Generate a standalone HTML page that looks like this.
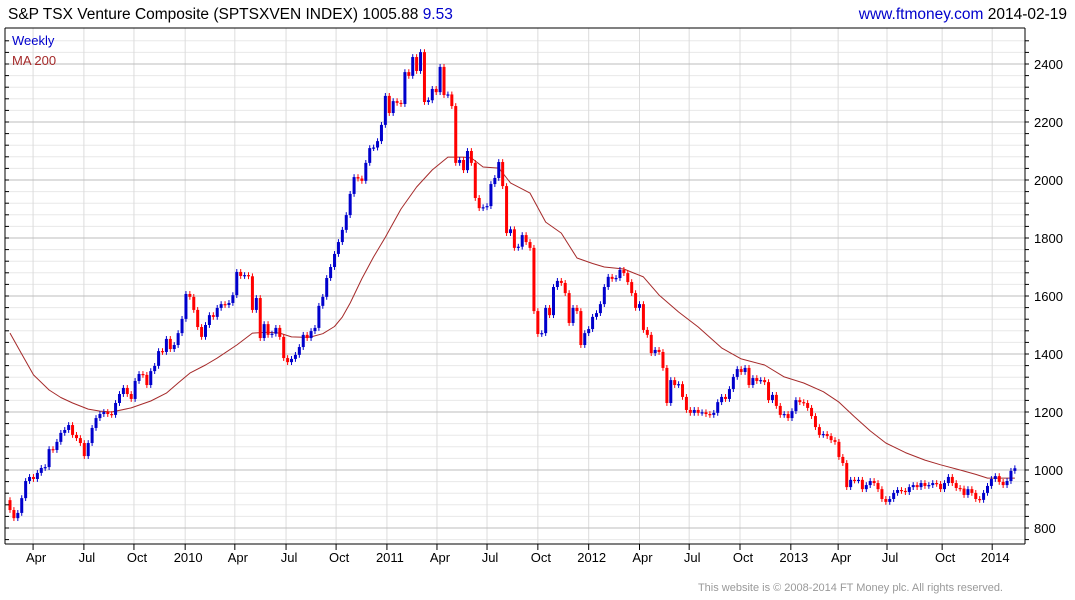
<!DOCTYPE html>
<html><head><meta charset="utf-8"><style>
body{margin:0;background:#fff;width:1075px;height:600px;overflow:hidden;font-family:"Liberation Sans",sans-serif}
svg{display:block}
</style></head><body>
<svg id="chart" width="1075" height="600" font-family="Liberation Sans, sans-serif">
<text x="8" y="19" font-size="15.5" fill="#000">S&amp;P TSX Venture Composite (SPTSXVEN INDEX) 1005.88 <tspan fill="#0000cc">9.53</tspan></text>
<text x="1067" y="19" font-size="15.5" text-anchor="end"><tspan fill="#0000cc">www.ftmoney.com</tspan> 2014-02-19</text>
<g id="grid"></g>
<g id="ma"></g>
<g id="candles"></g>
<g id="axes"></g>
<text x="12" y="45" font-size="13" fill="#0000cc">Weekly</text>
<text x="12" y="65" font-size="13" fill="#a52a2a">MA 200</text>
<text x="1003" y="591" font-size="11" fill="#999" text-anchor="end">This website is © 2008-2014 FT Money plc. All rights reserved.</text>
</svg>
<script>
const closes=[862,834,852,903,962,976,969,990,1007,1010,1072,1069,1097,1128,1138,1155,1121,1110,1093,1048,1093,1145,1179,1193,1200,1193,1190,1231,1262,1283,1262,1245,1307,1331,1328,1293,1341,1359,1410,1407,1452,1417,1431,1472,1521,1607,1597,1552,1493,1459,1500,1534,1528,1559,1572,1569,1576,1603,1683,1669,1672,1668,1552,1593,1455,1503,1466,1470,1490,1459,1386,1372,1383,1397,1424,1466,1455,1479,1490,1566,1597,1662,1700,1745,1786,1828,1879,1952,2010,2005,1997,2059,2110,2112,2134,2190,2290,2231,2272,2266,2262,2372,2359,2424,2376,2441,2269,2275,2314,2303,2390,2293,2295,2255,2059,2069,2034,2100,2059,1938,1903,1906,1910,1986,2007,2062,1979,1817,1830,1766,1770,1810,1786,1766,1548,1469,1472,1559,1534,1631,1652,1645,1610,1507,1559,1548,1431,1472,1486,1528,1541,1572,1631,1666,1659,1662,1690,1679,1648,1610,1559,1572,1483,1466,1403,1414,1407,1352,1231,1310,1293,1296,1252,1207,1197,1207,1197,1199,1193,1190,1197,1234,1252,1245,1279,1321,1348,1338,1352,1293,1317,1307,1310,1303,1241,1259,1221,1190,1193,1179,1203,1241,1234,1231,1214,1186,1148,1121,1124,1117,1103,1097,1045,1024,941,966,964,966,934,948,962,955,934,900,890,900,921,931,928,924,941,948,941,955,945,948,955,952,934,955,976,955,938,936,914,934,921,900,897,921,945,969,979,959,948,962,997,1006];
const maWeeks=[0,3,6,10,13,16,20,23,26,31,36,40,43,46,50,53,58,62,66,69,72,75,77,80,83,85,87,90,93,96,100,104,108,112,116,118,121,125,128,133,137,141,145,149,152,157,162,166,171,176,182,187,193,198,203,208,212,216,220,224,229,234,238,243,247,250,257];
const maValues=[1472,1400,1328,1276,1250,1231,1210,1203,1200,1214,1238,1265,1300,1334,1362,1386,1431,1472,1475,1472,1459,1458,1459,1470,1495,1528,1576,1660,1735,1803,1900,1976,2035,2079,2079,2076,2045,2041,1990,1955,1855,1817,1731,1712,1700,1693,1666,1603,1545,1493,1421,1383,1362,1321,1300,1270,1234,1183,1135,1093,1060,1034,1018,1000,985,972,972];
const yTicks=[800,1000,1200,1400,1600,1800,2000,2200,2400];
const xTickWeeks=[5.9,18.9,31.7,44.8,57.5,70.6,83.4,96.4,109.2,122,135,148,161,173.7,186.7,199.7,211.8,224.3,238.4,251.2];
const xTickLabels=["Apr","Jul","Oct","2010","Apr","Jul","Oct","2011","Apr","Jul","Oct","2012","Apr","Jul","Oct","2013","Apr","Jul","Oct","2014"];
const firstOpen=896;

const NS="http://www.w3.org/2000/svg";
const L=5,R=1025,T=28,B=544;
const xs=i=>10+i*3.91;
const ys=v=>528-(v-800)*0.29;
function mk(tag,attrs,parent){const e=document.createElementNS(NS,tag);for(const k in attrs)e.setAttribute(k,attrs[k]);parent.appendChild(e);return e;}
const grid=document.getElementById('grid'),axes=document.getElementById('axes'),cg=document.getElementById('candles'),mg=document.getElementById('ma');
for(let v=760;v<=2480;v+=40){const y=ys(v);if(y<T||y>B)continue;
 const ln=mk('line',{x1:L,x2:R,y1:y,y2:y,stroke:'#e8e8e8','stroke-width':1},grid);
 
 
 const t1=mk('line',{x1:L,x2:L+4,y1:y,y2:y,stroke:'#000'},axes);
 
 
 const t2=mk('line',{x1:R,x2:R+4,y1:y,y2:y,stroke:'#000'},axes);
 
 }
xTickWeeks.forEach((w,i)=>{const x=xs(w);
 const ln=mk('line',{x1:x,x2:x,y1:T,y2:B,stroke:'#dcdcdc'},grid);
 
 
 const tk=mk('line',{x1:x,x2:x,y1:B,y2:B+6,stroke:'#000'},axes);
 
 
 const t=mk('text',{x:x+3,y:562,'font-size':13,'text-anchor':'middle',fill:'#000'},axes);
 t.textContent=xTickLabels[i];
 
 });
yTicks.forEach(v=>{const y=ys(v);
 const ln=mk('line',{x1:L,x2:R,y1:y,y2:y,stroke:'#bdbdbd'},grid);
 
 
 const t=mk('text',{x:1034,y:y+5,'font-size':13,fill:'#000'},axes);
 t.textContent=v;
 
 });
[[L,T,R,T],[L,T,L,B],[R,T,R,B],[L,B,R,B]].forEach(a=>{
 const ln=mk('line',{x1:a[0],y1:a[1],x2:a[2],y2:a[3],stroke:'#000'},axes);
 
 });
const pts=maWeeks.map((w,i)=>xs(w).toFixed(1)+','+ys(maValues[i]).toFixed(1)).join(' ');
const pl=mk('polyline',{points:pts,fill:'none',stroke:'#a52a2a','stroke-width':1,'stroke-linejoin':'round'},mg);


closes.forEach((c,i)=>{const o=i===0?firstOpen:closes[i-1];const up=c>=o;
 const col=up?'#0000cc':'#ff0000';const x=xs(i);
 const hi=Math.max(o,c)+10,lo=Math.min(o,c)-10;
 const g=mk('g',{},cg);
 
 
 mk('line',{x1:x,x2:x,y1:ys(hi),y2:ys(lo),stroke:col,'stroke-width':1},g);
 const top=ys(Math.max(o,c)),h=Math.max(1.2,ys(Math.min(o,c))-top);
 mk('rect',{x:x-1.5,y:top,width:3,height:h,fill:col},g);});
</script>
</body></html>
